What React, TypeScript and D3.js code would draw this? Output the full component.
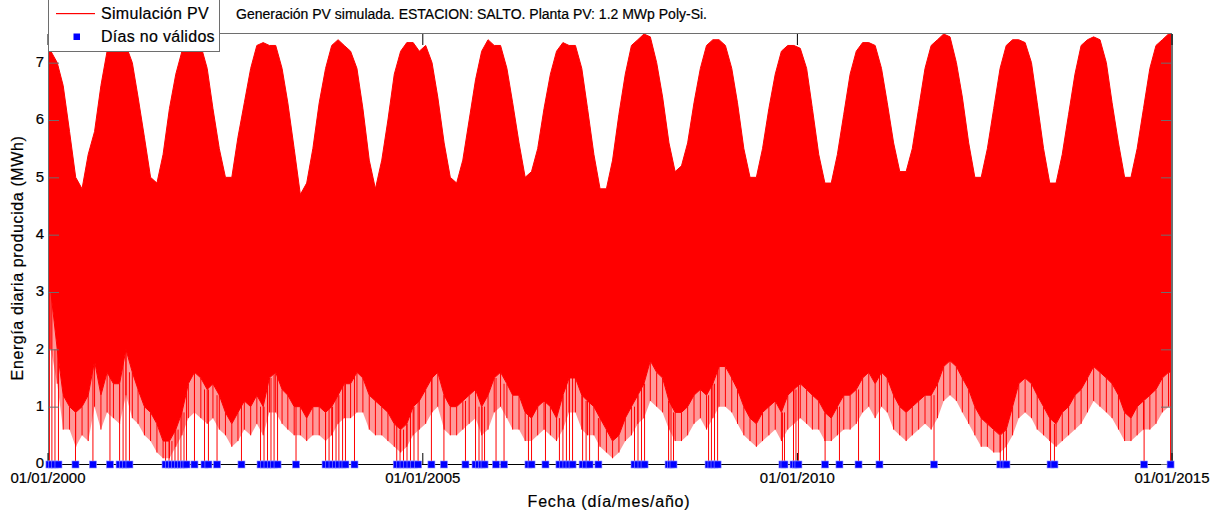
import React from 'react';
import * as d3 from 'd3';

// Monthly readings (MWh/day), Jan..Dec, one row per year 2000-2014
const startYear = 2000;

// upper envelope of the daily line
const maxEnvelope = [
  7.2, 7.0, 6.6, 5.8, 5.0, 4.8, 5.4, 5.8, 6.6, 7.2, 7.4, 7.4,
  7.3, 7.0, 6.4, 5.7, 5.0, 4.9, 5.4, 6.2, 6.8, 7.2, 7.3, 7.3,
  7.3, 6.9, 6.2, 5.5, 5.0, 5.0, 5.7, 6.3, 6.9, 7.3, 7.35, 7.3,
  7.3, 6.9, 6.3, 5.5, 4.7, 4.9, 5.5, 6.3, 6.9, 7.3, 7.4, 7.3,
  7.2, 6.9, 6.2, 5.3, 4.8, 5.3, 6.0, 6.8, 7.2, 7.35, 7.35, 7.2,
  7.3, 7.0, 6.4, 5.6, 5.0, 4.9, 5.3, 6.0, 6.7, 7.2, 7.4, 7.3,
  7.3, 6.9, 6.3, 5.6, 5.0, 5.1, 5.5, 6.2, 6.8, 7.2, 7.35, 7.3,
  7.3, 6.9, 6.2, 5.4, 4.8, 4.8, 5.3, 6.1, 6.8, 7.3, 7.4, 7.5,
  7.45, 7.0, 6.4, 5.6, 5.1, 5.2, 5.6, 6.3, 6.9, 7.3, 7.4, 7.4,
  7.3, 6.9, 6.3, 5.5, 5.0, 5.0, 5.5, 6.2, 6.8, 7.2, 7.3, 7.3,
  7.25, 6.9, 6.2, 5.4, 4.9, 4.9, 5.4, 6.1, 6.8, 7.2, 7.35, 7.35,
  7.3, 6.9, 6.3, 5.6, 5.1, 5.1, 5.5, 6.2, 6.9, 7.3, 7.4, 7.5,
  7.45, 7.0, 6.4, 5.6, 5.0, 5.0, 5.5, 6.2, 6.9, 7.3, 7.4, 7.4,
  7.35, 7.0, 6.3, 5.5, 4.9, 4.9, 5.4, 6.1, 6.8, 7.3, 7.4, 7.45,
  7.4, 7.0, 6.3, 5.6, 5.0, 5.0, 5.5, 6.2, 6.9, 7.3, 7.4, 7.5,
];

// where the dense part of the line stops
const denseLow = [
  3.0, 2.0, 1.2, 1.0, 0.9, 1.0, 1.2, 1.8, 1.2, 1.6, 1.4, 1.4,
  2.0, 1.6, 1.3, 1.0, 0.9, 0.7, 0.4, 0.4, 0.6, 0.9, 1.4, 1.6,
  1.5, 1.3, 1.4, 1.2, 0.9, 0.7, 0.9, 1.1, 1.0, 1.2, 1.0, 1.5,
  1.6, 1.3, 1.2, 1.0, 1.0, 0.8, 1.0, 1.0, 0.9, 1.0, 1.2, 1.4,
  1.4, 1.6, 1.5, 1.2, 1.1, 1.0, 0.9, 0.7, 0.6, 0.7, 1.0, 1.1,
  1.3, 1.5, 1.6, 1.2, 1.0, 1.0, 1.1, 1.2, 1.3, 1.0, 1.2, 1.5,
  1.6, 1.4, 1.2, 1.2, 0.9, 0.8, 1.0, 1.1, 1.0, 0.8, 1.2, 1.5,
  1.5, 1.2, 1.1, 1.0, 0.8, 0.6, 0.4, 0.5, 0.8, 1.0, 1.2, 1.4,
  1.8, 1.6, 1.5, 1.1, 0.9, 0.9, 1.0, 1.2, 1.3, 1.2, 1.4, 1.7,
  1.7, 1.5, 1.3, 1.0, 0.8, 0.7, 0.9, 1.0, 1.1, 0.9, 1.2, 1.3,
  1.4, 1.3, 1.2, 1.1, 0.9, 0.8, 1.0, 1.2, 1.2, 1.3, 1.5, 1.6,
  1.4, 1.6, 1.5, 1.2, 1.0, 0.9, 1.0, 1.1, 1.2, 1.2, 1.4, 1.7,
  1.8, 1.7, 1.5, 1.3, 1.0, 0.8, 0.7, 0.6, 0.5, 0.6, 1.0, 1.4,
  1.5, 1.4, 1.2, 1.0, 0.8, 0.7, 0.9, 1.0, 1.2, 1.3, 1.5, 1.7,
  1.6, 1.5, 1.4, 1.2, 0.9, 0.8, 1.0, 1.1, 1.2, 1.3, 1.5, 1.6,
];

// deepest cloudy-day dip of the month (valid days)
const minDip = [
  2.0, 1.4, 0.6, 0.6, 0.3, 0.5, 0.4, 1.0, 0.6, 0.9, 0.8, 0.7,
  1.2, 0.8, 0.7, 0.5, 0.4, 0.2, 0.1, 0.1, 0.3, 0.5, 0.8, 0.9,
  0.8, 0.7, 0.8, 0.6, 0.5, 0.3, 0.4, 0.6, 0.5, 0.7, 0.5, 0.9,
  0.9, 0.7, 0.6, 0.5, 0.5, 0.4, 0.5, 0.5, 0.4, 0.5, 0.7, 0.8,
  0.8, 0.9, 0.9, 0.6, 0.5, 0.5, 0.4, 0.3, 0.2, 0.3, 0.5, 0.6,
  0.7, 0.9, 1.0, 0.6, 0.5, 0.5, 0.6, 0.7, 0.8, 0.5, 0.6, 0.9,
  1.0, 0.8, 0.6, 0.6, 0.4, 0.4, 0.5, 0.6, 0.5, 0.4, 0.6, 0.9,
  0.9, 0.6, 0.5, 0.5, 0.3, 0.2, 0.1, 0.2, 0.4, 0.5, 0.7, 0.8,
  1.1, 1.0, 0.9, 0.6, 0.4, 0.4, 0.5, 0.7, 0.8, 0.6, 0.8, 1.0,
  1.0, 0.9, 0.7, 0.5, 0.4, 0.3, 0.4, 0.5, 0.6, 0.4, 0.6, 0.7,
  0.8, 0.7, 0.6, 0.6, 0.4, 0.4, 0.5, 0.6, 0.6, 0.7, 0.9, 1.0,
  0.8, 1.0, 0.9, 0.6, 0.5, 0.4, 0.5, 0.6, 0.7, 0.6, 0.8, 1.1,
  1.2, 1.1, 0.9, 0.7, 0.5, 0.3, 0.3, 0.2, 0.2, 0.3, 0.5, 0.8,
  0.9, 0.8, 0.6, 0.5, 0.4, 0.3, 0.4, 0.5, 0.6, 0.7, 0.9, 1.1,
  1.0, 0.9, 0.8, 0.6, 0.4, 0.4, 0.5, 0.6, 0.6, 0.7, 0.9, 1.0,
];

// "Días no válidos" (plotted at 0)
const invalidDays = [
  '2000-01-08', '2000-01-20', '2000-02-04', '2000-02-21', '2000-05-14', '2000-08-07',
  '2000-10-29', '2000-12-15', '2001-01-01', '2001-01-15', '2001-02-01',
  '2001-07-27', '2001-08-13', '2001-08-27', '2001-09-11', '2001-09-26', '2001-10-10',
  '2001-10-25', '2001-11-06', '2001-12-15', '2002-02-02', '2002-02-21', '2002-04-04',
  '2002-08-01', '2002-11-02', '2002-11-19', '2002-12-06', '2002-12-23', '2003-01-07',
  '2003-01-24', '2003-04-24', '2003-09-15', '2003-10-02', '2003-10-19', '2003-11-05',
  '2003-11-19', '2003-12-07', '2003-12-21', '2004-02-03', '2004-08-27', '2004-09-12',
  '2004-09-29', '2004-10-16', '2004-11-02', '2004-11-19', '2004-12-09', '2005-02-12',
  '2005-04-14', '2005-07-28', '2005-09-15', '2005-10-02', '2005-10-17', '2005-10-29',
  '2005-12-24', '2006-02-01', '2006-05-31', '2006-06-15', '2006-08-22', '2006-10-29',
  '2006-11-15', '2006-12-02', '2006-12-17', '2007-01-01', '2007-02-19', '2007-03-08',
  '2007-03-25', '2007-05-07', '2007-10-30', '2007-11-16', '2007-12-03', '2007-12-18',
  '2008-04-13', '2008-04-25', '2008-05-07', '2008-10-25', '2008-11-08', '2008-11-23',
  '2008-12-08', '2009-10-20', '2009-10-30', '2009-12-13', '2009-12-25', '2010-01-06',
  '2010-05-16', '2010-07-25', '2010-10-26', '2011-02-05', '2011-10-29', '2012-09-16',
  '2012-10-02', '2012-10-16', '2013-05-19', '2013-06-07', '2014-08-18', '2014-12-25',
];

const yTicks = [0, 1, 2, 3, 4, 5, 6, 7];
const xTickLabels = ['01/01/2000', '01/01/2005', '01/01/2010', '01/01/2015'];

const FONT = '"Liberation Sans", Arial, Helvetica, sans-serif';
const RED = '#ff0000';
const BLUE = '#0000ff';
const AXIS = '#6e6e6e';

function parseDmy(s: string) {
  const [d, m, y] = s.split('/').map(Number);
  return new Date(Date.UTC(y, m - 1, d));
}

export default function App() {
  const width = 1224;
  const height = 519;
  const left = 48, right = 1172, top = 34, bottom = 464;

  const x = d3.scaleUtc()
    .domain([parseDmy(xTickLabels[0]), parseDmy(xTickLabels[xTickLabels.length - 1])])
    .range([left, right]);
  const y = d3.scaleLinear().domain([0, 7.5]).range([bottom, top]);

  const months = maxEnvelope.map((hi, i) => ({
    date: new Date(Date.UTC(startYear + Math.floor(i / 12), i % 12, 15)),
    hi,
    lo: denseLow[i],
    mn: minDip[i],
  }));
  const [d0, d1] = x.domain();
  const band = [
    { ...months[0], date: d0 },
    ...months,
    { ...months[months.length - 1], date: d1 },
  ];

  const denseArea = d3.area<any>()
    .x(d => x(d.date))
    .y0(d => y(d.lo))
    .y1(d => y(d.hi));
  const sparseArea = d3.area<any>()
    .x(d => x(d.date))
    .y0(d => y(d.mn))
    .y1(d => y(d.lo));

  const bad = invalidDays.map(s => {
    const date = d3.utcParse('%Y-%m-%d')(s)!;
    const m = months[(date.getUTCFullYear() - startYear) * 12 + date.getUTCMonth()];
    return { date, lo: m ? m.lo : 1 };
  });

  const txt = { fill: '#000', stroke: '#000', strokeWidth: 0.2 };

  return (
    <svg width={width} height={height} style={{ position: 'absolute', left: 0, top: 0, background: '#fff' }}
      fontFamily={FONT}>
      <defs>
        <clipPath id="plot">
          <rect x={left} y={top} width={right - left} height={bottom - top} />
        </clipPath>
      </defs>

      <g clipPath="url(#plot)">
        <path d={sparseArea(band) || ''} fill={RED} fillOpacity={0.4} />
        <path d={denseArea(band) || ''} fill={RED} stroke={RED} strokeWidth={1} />
        {months.map((m, i) => (
          <line key={'dip' + i} x1={x(m.date)} x2={x(m.date)} y1={y(m.mn)} y2={y(m.lo)}
            stroke={RED} strokeWidth={1} />
        ))}
        {bad.map((b, i) => (
          <line key={'bl' + i} x1={x(b.date)} x2={x(b.date)} y1={y(0)} y2={y(b.lo)}
            stroke={RED} strokeWidth={1} />
        ))}
      </g>

      {/* axes box */}
      <line x1={left + 0.5} x2={left + 0.5} y1={top} y2={bottom} stroke={AXIS} />
      <line x1={left} x2={right} y1={top - 0.5} y2={top - 0.5} stroke={AXIS} />
      <line x1={right} x2={right} y1={top} y2={bottom} stroke={AXIS} strokeWidth={2} />
      <line x1={left} x2={right} y1={y(0) + 0.5} y2={y(0) + 0.5} stroke="#000" strokeWidth={1} />

      {yTicks.map(t => (
        <g key={'yt' + t}>
          <line x1={left} x2={left + 11} y1={y(t) + 0.5} y2={y(t) + 0.5} stroke={AXIS} />
          <line x1={right - 11} x2={right} y1={y(t) + 0.5} y2={y(t) + 0.5} stroke={AXIS} />
          <text x={left - 4} y={y(t) - 1} dy="0.36em" textAnchor="end" fontSize={15} {...txt}>{t}</text>
        </g>
      ))}

      {xTickLabels.map(l => {
        const px = x(parseDmy(l));
        return (
          <g key={l}>
            <line x1={px} x2={px} y1={bottom} y2={bottom - 11} stroke="#000" />
            <line x1={px} x2={px} y1={top} y2={top + 11} stroke="#000" />
            <text x={px} y={483} textAnchor="middle" fontSize={15} {...txt}>{l}</text>
          </g>
        );
      })}

      {bad.map((b, i) => (
        <rect key={'bq' + i} x={x(b.date) - 3.5} y={y(0) - 3} width={7} height={7} fill={BLUE}
          stroke="#8c8cff" strokeWidth={0.6} />
      ))}

      <text x={236} y={19} fontSize={14} {...txt}>Generación PV simulada. ESTACION: SALTO. Planta PV: 1.2 MWp Poly-Si.</text>
      <text x={609} y={507} textAnchor="middle" fontSize={16} letterSpacing={0.8} {...txt}>Fecha (día/mes/año)</text>
      <text transform="translate(23,258) rotate(-90)" textAnchor="middle" fontSize={16} letterSpacing={0.6} {...txt}>
        Energía diaria producida (MWh)
      </text>

      {/* legend */}
      <g>
        <rect x={48.5} y={-1} width={171} height={52.5} fill="#fff" stroke={AXIS} />
        <rect x={56} y={13} width={39} height={1.2} fill={RED} />
        <text x={101} y={19} fontSize={16} letterSpacing={0.3} {...txt}>Simulación PV</text>
        <rect x={73.5} y={33.5} width={6.5} height={6.5} fill={BLUE} />
        <text x={101} y={42} fontSize={16} letterSpacing={0.3} {...txt}>Días no válidos</text>
      </g>
    </svg>
  );
}
